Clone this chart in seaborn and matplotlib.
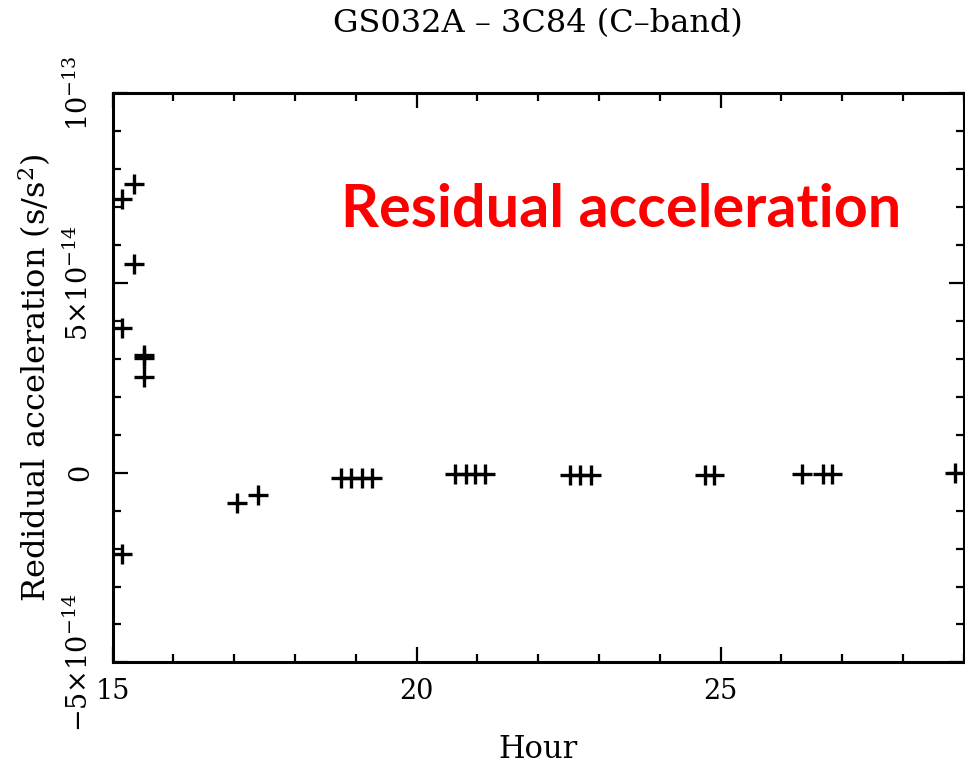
"""
Residual acceleration vs hour, GS032A - 3C84 (C-band)
"""
import matplotlib
matplotlib.use('Agg')
import matplotlib.pyplot as plt
from matplotlib.ticker import MultipleLocator
import seaborn as sns
import numpy as np
import pandas as pd

# data
hour = [15.15, 15.36, 15.36, 15.15, 15.52, 15.52, 15.52, 15.15,
        17.04, 17.40,
        18.76, 18.93, 19.10, 19.26,
        20.64, 20.81, 20.97, 21.13,
        22.52, 22.69, 22.87,
        24.74, 24.89,
        26.34, 26.68, 26.83,
        28.85]
accel_e14 = [7.21, 7.61, 5.49, 3.81, 3.09, 3.02, 2.51, -2.15,
             -0.79, -0.59,
             -0.15, -0.15, -0.15, -0.15,
             -0.03, -0.03, -0.03, -0.03,
             -0.06, -0.06, -0.06,
             -0.06, -0.06,
             -0.04, -0.04, -0.04,
             0.0]

title = 'GS032A \u2013 3C84 (C\u2013band)'
x_label = 'Hour'
y_label = 'Redidual acceleration (s/s$^2$)'
annotation = 'Residual acceleration'
x_ticks = [15, 20, 25]
y_ticks = [-5e-14, 0, 5e-14, 1e-13]
y_tick_labels = [r'$-5{\times}10^{-14}$', '0', r'$5{\times}10^{-14}$', r'$10^{-13}$']

df = pd.DataFrame({'hour': hour, 'accel': np.array(accel_e14) * 1e-14})

sns.set_style('ticks')
plt.rcParams['font.family'] = ['DejaVu Serif']
plt.rcParams['mathtext.fontset'] = 'dejavuserif'
plt.rcParams['text.color'] = 'black'
plt.rcParams['axes.labelcolor'] = 'black'
plt.rcParams['xtick.color'] = 'black'
plt.rcParams['ytick.color'] = 'black'

fig = plt.figure(figsize=(9.65, 7.64), dpi=100)
ax = fig.add_axes([112.5 / 965, 1 - 662.4 / 764, 851.2 / 965, 569.1 / 764])

sns.scatterplot(data=df, x='hour', y='accel', marker='+', s=210,
                color='black', linewidth=2.4, ax=ax, legend=False)

ax.set_xlim(15, 29)
ax.set_ylim(-5e-14, 1e-13)
ax.set_xticks(x_ticks)
ax.set_xticklabels([str(t) for t in x_ticks])
ax.xaxis.set_minor_locator(MultipleLocator(1))
ax.set_yticks(y_ticks)
ax.set_yticklabels(y_tick_labels)
ax.yaxis.set_minor_locator(MultipleLocator(1e-14))

for s in ax.spines.values():
    s.set_visible(True)
    s.set_linewidth(2.2)
    s.set_color('black')

ax.tick_params(which='both', direction='in', top=True, right=True,
               width=1.6, color='black', labelcolor='black', labelsize=19.5)
ax.tick_params(which='major', length=11)
ax.tick_params(which='minor', length=6)
ax.tick_params(axis='x', pad=11)
ax.tick_params(axis='y', pad=13)
for lab in ax.get_yticklabels():
    lab.set_rotation(90)
    lab.set_va('center')

ax.set_xlabel(x_label, fontsize=22, color='black')
ax.set_ylabel(y_label, fontsize=23, color='black')
ax.xaxis.set_label_coords(0.5, -0.125)
ax.yaxis.set_label_coords(-0.070, 0.5)

fig.text(538 / 965, 1 - 24 / 764, title, fontsize=23, ha='center', va='center',
         color='black', family=['DejaVu Serif'])

# red annotation, scaled to span the same width as in the reference
t = fig.text(341 / 965, 1 - 227 / 764, annotation, color='#ff0000',
             fontsize=40, fontweight='bold', ha='left', va='baseline',
             family=['Lato', 'DejaVu Sans'])
fig.canvas.draw()
w = t.get_window_extent().width
t.set_fontsize(40 * 559 / w)

fig.savefig('out.png', dpi=100)
